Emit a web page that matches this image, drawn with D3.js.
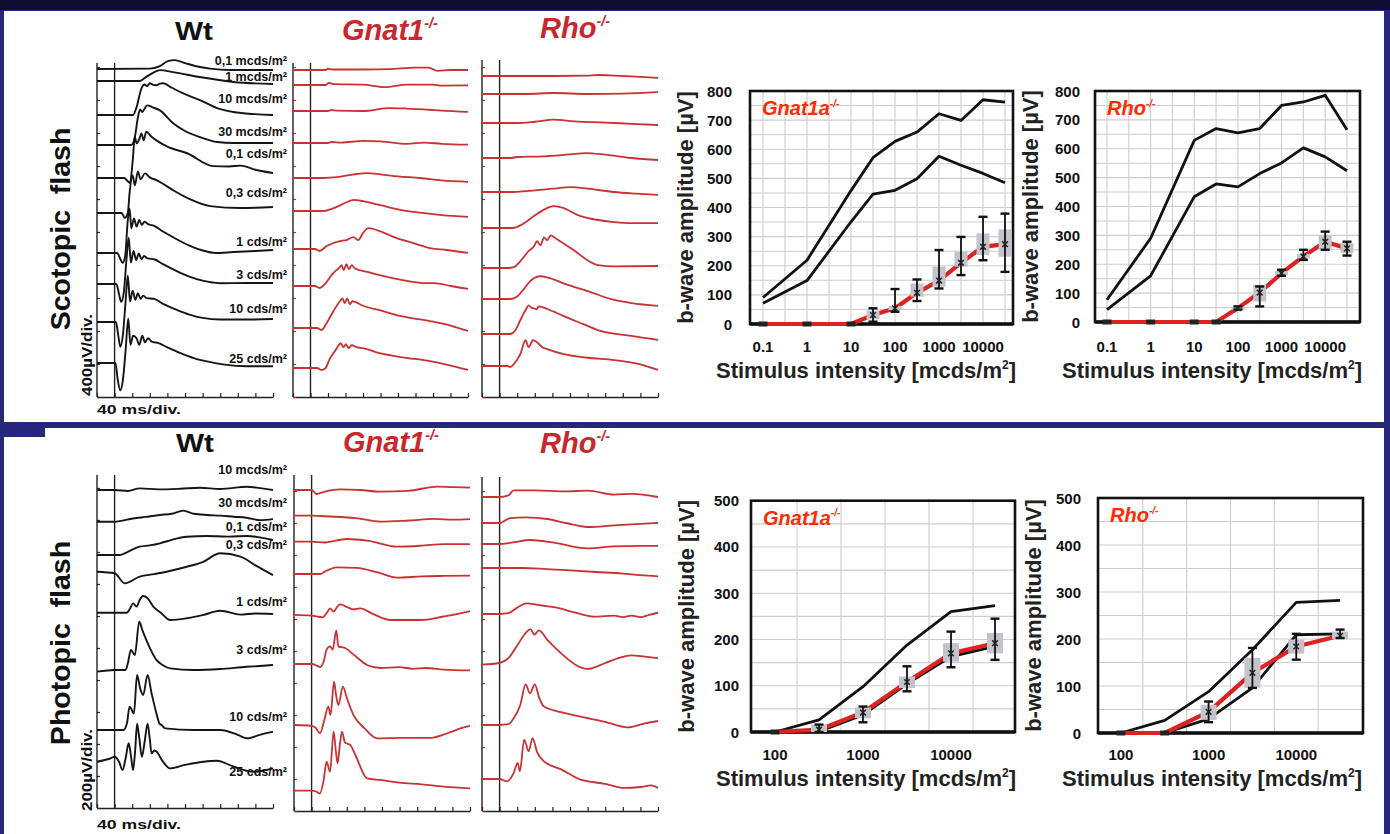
<!DOCTYPE html>
<html><head><meta charset="utf-8">
<script src="https://cdn.jsdelivr.net/npm/d3@7"></script>
<style>html,body{margin:0;padding:0;background:#25287a;overflow:hidden}svg{display:block;font-family:"Liberation Sans",Arial,sans-serif}</style>
</head><body><svg id="c" width="1390" height="834"></svg>
<script>
// ================= DATA =================
const scotLabels = ["0,1 mcds/m²","1 mcds/m²","10 mcds/m²","30 mcds/m²","0,1 cds/m²","0,3 cds/m²","1 cds/m²","3 cds/m²","10 cds/m²","25 cds/m²"];
const photLabels = ["10 mcds/m²","30 mcds/m²","0,1 cds/m²","0,3 cds/m²","1 cds/m²","3 cds/m²","10 cds/m²","25 cds/m²"];

// ERG traces: [time ms, amplitude µV]
const scotWt = [
 [[-40,0],[80,5],[103,35],[121,95],[137,108],[160,72],[194,24],[217,5],[263,-12],[360,-12]],
 [[-40,0],[57,0],[72,50],[95,120],[103,132],[133,108],[194,48],[270,-12],[360,-36]],
 [[-40,0],[42,0],[50,96],[61,324],[68,370],[74,350],[80,384],[88,365],[95,360],[103,380],[110,384],[130,330],[155,264],[194,180],[233,84],[270,36],[320,10],[360,0]],
 [[-40,0],[38,0],[46,96],[53,336],[58,430],[63,400],[68,440],[74,480],[87,456],[103,420],[133,264],[160,170],[194,96],[233,36],[270,24],[360,24]],
 [[-40,0],[22,0],[30,-40],[35,-60],[41,200],[46,500],[50,420],[56,470],[61,540],[66,456],[72,560],[84,500],[95,456],[120,380],[165,300],[224,144],[260,140],[286,150],[320,100],[360,60]],
 [[-40,0],[16,0],[23,-60],[30,0],[34,240],[41,456],[46,336],[53,504],[59,408],[69,480],[80,432],[96,396],[137,264],[171,168],[217,84],[286,60],[360,72]],
 [[-40,0],[6,0],[12,-60],[18,-120],[24,-40],[30,400],[34,540],[38,300],[44,420],[50,320],[56,400],[62,340],[68,380],[76,350],[90,330],[110,260],[140,170],[170,90],[200,30],[230,0],[270,12],[320,24],[360,36]],
 [[-40,0],[4,0],[10,-120],[15,-216],[21,-100],[27,300],[32,560],[37,260],[43,400],[49,290],[55,370],[61,300],[67,340],[75,310],[90,300],[110,240],[140,160],[170,90],[200,40],[240,10],[300,12],[360,12]],
 [[-40,0],[3,0],[8,-150],[13,-300],[19,-150],[25,250],[30,560],[35,250],[41,380],[47,270],[53,350],[59,280],[65,320],[73,290],[90,280],[110,220],[140,150],[170,90],[200,50],[240,30],[300,30],[360,36]],
 [[-40,0],[2,0],[7,-200],[13,-330],[19,-200],[25,150],[31,540],[36,220],[42,330],[50,300],[56,220],[63,330],[69,250],[76,300],[84,260],[100,240],[120,190],[150,120],[180,60],[210,20],[250,-20],[300,-40],[360,-40]]
];
const scotGnat = [
 [[-40,0],[35,0],[40,15],[50,6],[120,6],[180,10],[240,30],[270,30],[290,-10],[320,0],[360,0]],
 [[-40,0],[35,0],[42,25],[55,10],[120,5],[170,-25],[220,5],[280,5],[300,-8],[360,-5]],
 [[-40,0],[40,0],[48,12],[60,5],[120,0],[180,36],[220,30],[270,15],[300,5],[360,-10]],
 [[-40,0],[40,0],[48,12],[70,5],[120,25],[160,20],[220,-10],[260,5],[300,-10],[360,-20]],
 [[-40,0],[30,0],[60,10],[100,45],[130,60],[160,45],[200,20],[250,0],[300,-30],[360,-48]],
 [[-40,0],[30,0],[45,20],[60,50],[80,100],[99,135],[120,120],[160,70],[200,20],[250,-20],[300,-50],[360,-72]],
 [[-40,0],[10,0],[21,-24],[37,36],[67,96],[82,108],[98,144],[109,108],[120,192],[132,252],[158,216],[197,132],[235,72],[273,12],[311,-12],[360,-48]],
 [[-40,0],[10,0],[21,-24],[35,36],[50,144],[67,228],[71,252],[76,192],[82,264],[88,204],[94,252],[101,216],[130,170],[158,132],[210,72],[258,36],[284,36],[320,0],[360,-36]],
 [[-40,0],[15,0],[25,-24],[37,60],[52,200],[67,324],[73,360],[78,300],[84,360],[90,288],[96,324],[120,270],[158,216],[210,140],[273,84],[320,30],[360,-36]],
 [[-40,0],[15,0],[25,-24],[33,-10],[44,110],[59,230],[63,264],[69,300],[75,252],[81,288],[87,240],[94,276],[105,252],[120,240],[158,180],[210,130],[273,84],[320,30],[360,-24]]
];
const scotRho = [
 [[-40,0],[100,0],[200,5],[222,12],[260,5],[300,-5],[360,-24]],
 [[-40,0],[60,0],[123,12],[200,0],[280,5],[360,24]],
 [[-40,0],[40,0],[80,15],[123,40],[170,20],[240,5],[300,-10],[360,-24]],
 [[-40,0],[25,0],[40,12],[100,20],[160,45],[196,60],[240,40],[300,0],[360,-24]],
 [[-40,0],[30,0],[60,10],[120,40],[162,60],[200,40],[260,0],[310,-20],[360,-36]],
 [[-40,0],[30,0],[50,40],[78,144],[100,220],[123,264],[140,250],[184,144],[220,100],[261,72],[300,60],[360,60]],
 [[-40,0],[20,0],[32,10],[50,100],[65,200],[78,264],[85,324],[93,276],[101,372],[108,336],[116,396],[127,360],[162,240],[223,36],[261,20],[360,24]],
 [[-40,0],[25,0],[40,30],[55,120],[70,220],[93,276],[110,260],[150,180],[200,96],[261,-12],[300,-50],[360,-84]],
 [[-40,0],[25,0],[35,40],[50,200],[60,300],[66,348],[72,320],[78,312],[84,300],[89,336],[110,300],[146,216],[190,120],[223,48],[299,-24],[360,-72]],
 [[-40,0],[18,0],[24,-12],[32,20],[47,144],[59,312],[66,228],[76,312],[85,288],[97,228],[108,204],[146,144],[200,100],[261,72],[320,20],[360,-48]]
];
const photWt = [
 [[-40,0],[0,0],[30,-6],[57,10],[100,4],[150,8],[194,14],[240,6],[301,20],[330,12],[360,0]],
 [[-40,0],[0,0],[42,20],[70,30],[103,42],[130,50],[156,69],[180,50],[210,42],[240,38],[271,31],[300,25],[331,10],[360,16]],
 [[-40,0],[11,0],[30,20],[57,52],[80,60],[103,73],[130,95],[164,114],[210,119],[260,115],[301,119],[330,110],[360,94]],
 [[-40,0],[0,-10],[23,-73],[57,-31],[90,-15],[118,0],[164,31],[200,60],[240,115],[286,94],[320,40],[360,-21]],
 [[-40,0],[28,0],[35,25],[42,58],[50,38],[57,80],[65,104],[75,90],[88,38],[105,0],[126,-46],[164,-35],[200,-15],[240,12],[286,-12],[320,-5],[360,-8]],
 [[-40,-10],[0,0],[25,0],[30,40],[37,125],[46,94],[56,302],[63,250],[72,188],[85,110],[95,63],[110,30],[126,10],[180,0],[240,6],[300,20],[330,25],[360,31]],
 [[-40,0],[20,0],[28,40],[34,146],[44,104],[51,344],[58,260],[65,219],[75,344],[84,230],[95,104],[102,40],[107,31],[115,10],[180,0],[240,0],[280,-30],[301,-52],[330,-30],[360,-10]],
 [[-40,0],[-10,20],[0,31],[10,0],[18,-52],[25,20],[32,115],[37,40],[42,-52],[47,80],[51,237],[56,150],[62,31],[68,120],[75,237],[80,140],[84,52],[90,70],[95,63],[110,0],[126,-42],[160,-20],[202,0],[232,6],[270,-30],[316,-63],[340,-55],[360,-42]]
];
const photGnat = [
 [[-40,0],[0,0],[11,-25],[30,-10],[65,4],[110,0],[156,-10],[220,-5],[286,21],[320,18],[360,15]],
 [[-40,0],[0,0],[42,-5],[100,-15],[156,-37],[220,-30],[280,-20],[320,-25],[360,-21]],
 [[-40,0],[0,0],[30,-5],[80,17],[130,5],[194,-31],[250,-25],[300,-15],[360,-15]],
 [[-40,0],[20,0],[30,15],[57,42],[103,38],[150,10],[194,-23],[250,-15],[300,-12],[360,-10]],
 [[-40,5],[0,0],[25,-10],[35,20],[42,46],[50,25],[58,55],[65,71],[80,55],[95,40],[110,46],[140,10],[179,-27],[248,-27],[300,-5],[330,10],[360,29]],
 [[-40,0],[0,0],[12,-10],[19,-19],[28,20],[34,90],[42,110],[48,90],[56,210],[61,110],[68,105],[76,100],[95,60],[126,-6],[156,-25],[200,-20],[230,-30],[260,-25],[300,-35],[360,-40]],
 [[-40,0],[0,-5],[10,-20],[19,-52],[28,20],[38,115],[43,63],[51,271],[56,180],[61,125],[71,240],[80,170],[95,63],[120,-20],[149,-83],[200,-80],[271,-80],[310,-50],[340,-20],[360,-6]],
 [[-40,0],[0,0],[10,-5],[19,-17],[27,60],[34,181],[42,119],[50,369],[55,250],[59,171],[64,280],[69,369],[76,300],[88,285],[100,220],[126,77],[156,67],[200,50],[250,40],[300,25],[360,15]]
];
const photRho = [
 [[-40,0],[0,0],[20,10],[32,42],[80,42],[150,35],[200,40],[261,15],[300,20],[360,0]],
 [[-40,0],[0,0],[24,31],[60,35],[108,25],[150,0],[200,-25],[260,-15],[320,-5],[360,0]],
 [[-40,0],[0,0],[30,10],[70,25],[120,10],[200,-27],[260,-15],[320,-12],[360,-12]],
 [[-40,0],[0,0],[50,0],[100,-5],[160,-15],[220,-25],[280,-35],[320,-45],[360,-52]],
 [[-40,0],[0,0],[20,5],[40,40],[62,67],[90,55],[130,40],[170,10],[215,-17],[260,-10],[280,-20],[300,-10],[320,-20],[340,-5],[360,8]],
 [[-40,-10],[0,0],[20,30],[40,110],[60,190],[70,212],[79,177],[89,204],[110,140],[140,60],[184,-27],[200,-37],[240,0],[270,30],[299,48],[330,40],[360,31]],
 [[-40,0],[0,0],[20,5],[32,42],[47,125],[59,254],[69,198],[80,254],[90,170],[101,115],[140,80],[184,52],[240,20],[291,-15],[330,10],[360,25]],
 [[-40,0],[0,0],[17,-15],[32,38],[41,100],[46,48],[56,246],[66,173],[75,256],[85,170],[101,110],[140,60],[184,-4],[240,-30],[283,-56],[320,-50],[345,-40],[360,-56]]
];

// Intensity-response plots
const scotCats = ["0.1","0.3","1","3","10","30","100","300","1000","3000","10000","25000"];
const scotTickLabels = ["0.1","1","10","100","1000","10000"];
const scotYTicks = [0,100,200,300,400,500,600,700,800];
const scotX = ["0.1","1","10","30","100","300","1000","3000","10000","25000"];

const gnatScotWtHigh = [91,219,458,571,627,659,722,699,770,762];
const gnatScotWtLow  = [71,149,351,446,459,499,576,545,517,485];
const gnatScotMean   = [0,0,0,31,54,107,149,210,265,274];
const gnatScotErrLo  = [0,0,0,8,42,79,122,168,219,179];
const gnatScotErrHi  = [0,0,0,54,120,153,254,299,368,379];
const gnatScotBoxLo  = [0,0,0,16,48,94,128,197,237,231];
const gnatScotBoxHi  = [0,0,0,46,62,139,197,248,311,325];

const rhoScotWtHigh = [77,290,629,670,655,670,750,762,785,666];
const rhoScotWtLow  = [43,160,434,478,468,514,551,603,572,524];
const rhoScotMean   = [0,0,0,0,48,102,169,227,278,255];
const rhoScotErrLo  = [0,0,0,0,43,54,160,215,250,230];
const rhoScotErrHi  = [0,0,0,0,54,123,181,250,313,278];
const rhoScotBoxLo  = [0,0,0,0,44,71,163,220,250,238];
const rhoScotBoxHi  = [0,0,0,0,52,129,177,236,301,273];

const photCats = ["100","300","1000","3000","10000","25000"];
const photTickLabels = ["100","1000","10000"];
const photYTicks = [0,100,200,300,400,500];

const gnatPhotWtHigh = [0,26,98,188,260,273];
const gnatPhotWtLow  = [0,1,37,104,163,185];
const gnatPhotMean   = [0,5,42,108,170,192];
const gnatPhotErrLo  = [0,0,21,88,140,156];
const gnatPhotErrHi  = [0,16,55,142,217,245];
const gnatPhotBoxLo  = [0,0,30,95,152,170];
const gnatPhotBoxHi  = [0,16,53,120,192,214];

const rhoPhotWtHigh = [0,27,88,177,278,282];
const rhoPhotWtLow  = [0,0,30,96,209,211];
const rhoPhotMean   = [0,0,45,128,184,207];
const rhoPhotErrLo  = [0,0,23,96,156,202];
const rhoPhotErrHi  = [0,0,67,181,211,220];
const rhoPhotBoxLo  = [0,0,28,96,169,200];
const rhoPhotBoxHi  = [0,0,60,160,199,216];

// ================= DRAW =================
const svg = d3.select("#c");
const FONT = '"Liberation Sans", Arial, sans-serif';

svg.append("rect").attr("width",1390).attr("height",834).attr("fill","#25287a");
svg.append("rect").attr("width",1390).attr("height",10).attr("fill","#0e0e30");
svg.append("rect").attr("x",4).attr("y",11).attr("width",1380).attr("height",411).attr("fill","#fff");
svg.append("rect").attr("x",4).attr("y",437).attr("width",1380).attr("height",397).attr("fill","#fff");
svg.append("rect").attr("x",45).attr("y",428).attr("width",1339).attr("height",10).attr("fill","#fff");

function txt(x, y, s, opt) {
  opt = opt || {};
  const t = svg.append("text").attr("x", x).attr("y", y).text(s)
    .attr("font-family", FONT).attr("font-weight", opt.weight || "bold")
    .attr("font-size", opt.size || 14).attr("fill", opt.fill || "#111")
    .attr("text-anchor", opt.anchor || "start");
  if (opt.italic) t.attr("font-style", "italic");
  if (opt.rotate) t.attr("transform", `rotate(${opt.rotate},${x},${y})`);
  if (opt.len) t.attr("textLength", opt.len).attr("lengthAdjust", "spacingAndGlyphs");
  return t;
}
function supTitle(x, y, main, sup, size, fill, anchor) {
  const t = svg.append("text").attr("x", x).attr("y", y)
    .attr("font-family", FONT).attr("font-weight", "bold").attr("font-style", "italic")
    .attr("font-size", size).attr("fill", fill).attr("text-anchor", anchor || "start");
  t.append("tspan").text(main);
  t.append("tspan").text(sup).attr("font-size", size * 0.5).attr("dy", -size * 0.42);
  return t;
}

function tracePanel(p, traces, color, uvPerDiv, tickColor, sw) {
  const g = svg.append("g");
  const x = d3.scaleLinear().domain([-40, 360]).range([p.left, p.right]);
  const nDiv = Math.floor((p.bottom - p.top) / p.pxDiv);
  const yAx = d3.scaleLinear().domain([0, nDiv * uvPerDiv]).range([p.bottom, p.bottom - nDiv * p.pxDiv]);
  const bx = g.append("g").attr("transform", `translate(0,${p.bottom})`)
    .call(d3.axisBottom(x).tickValues(d3.range(-40, 361, 40)).tickSize(-4).tickSizeOuter(0).tickFormat(""));
  bx.select(".domain").attr("stroke", "#222").attr("stroke-width", 1.4);
  bx.selectAll(".tick line").attr("stroke", "#222").attr("stroke-width", 1.2);
  const ly = g.append("g").attr("transform", `translate(${p.left},0)`)
    .call(d3.axisRight(yAx).tickValues(d3.range(0, nDiv * uvPerDiv + 1, uvPerDiv)).tickSize(3).tickFormat(""));
  ly.select(".domain").remove();
  ly.selectAll(".tick line").attr("stroke", tickColor).attr("stroke-width", 1.2);
  g.append("line").attr("x1", p.left).attr("x2", p.left).attr("y1", p.top).attr("y2", p.bottom)
    .attr("stroke", "#222").attr("stroke-width", 1.4);
  g.append("line").attr("x1", x(0)).attr("x2", x(0)).attr("y1", p.top).attr("y2", p.bottom)
    .attr("stroke", "#222").attr("stroke-width", 1.4);
  traces.forEach((tr, i) => {
    const y = d3.scaleLinear().domain([0, uvPerDiv]).range([p.base[i], p.base[i] - p.pxDiv]);
    const line = d3.line().x(d => x(d[0])).y(d => y(d[1])).curve(d3.curveMonotoneX);
    g.append("path").attr("d", line(tr)).attr("fill", "none").attr("stroke", color)
      .attr("stroke-width", sw).attr("stroke-linejoin", "round");
  });
}

tracePanel({left:97, right:273, top:63, bottom:397, pxDiv:33, base:[69,81,115,145,178,213,253,284,322,363]}, scotWt, "#151515", 400, "#333", 1.9);
tracePanel({left:293, right:468, top:63, bottom:397, pxDiv:33, base:[70,85,111,143,178,211,249,286,328,368]}, scotGnat, "#c83232", 400, "#d22", 1.8);
tracePanel({left:482, right:658, top:60, bottom:397, pxDiv:33, base:[76,94,123,158,192,228,268,299,334,366]}, scotRho, "#c83232", 400, "#d22", 1.8);
tracePanel({left:97, right:273, top:475, bottom:808, pxDiv:32, base:[490,521.7,555,571.7,612.7,670,730,761.7]}, photWt, "#151515", 200, "#333", 1.9);
tracePanel({left:294, right:470, top:475, bottom:811, pxDiv:32, base:[490,515.7,541.7,574,615.7,664,725,790.7]}, photGnat, "#c83232", 200, "#d22", 1.8);
tracePanel({left:482, right:658, top:477, bottom:811, pxDiv:32, base:[497,523,544,568,614,663,725,779]}, photRho, "#c83232", 200, "#d22", 1.8);

const scotLabY = [65,81,103,136,158,197,246,279,313,363];
scotLabels.forEach((s, i) => txt(287, scotLabY[i], s, {size:12.5, anchor:"end"}));
const photLabY = [474,507,531,549,606,654,721,776];
photLabels.forEach((s, i) => txt(287, photLabY[i], s, {size:12.5, anchor:"end"}));

txt(194, 40, "Wt", {size:25, anchor:"middle", len:38});
txt(195, 452, "Wt", {size:25, anchor:"middle", len:38});
supTitle(342, 40, "Gnat1", "-/-", 29, "#c8282d");
supTitle(540, 38, "Rho", "-/-", 29, "#c8282d");
supTitle(343, 452, "Gnat1", "-/-", 29, "#c8282d");
supTitle(540, 453, "Rho", "-/-", 29, "#c8282d");

txt(70, 229, "Scotopic\u00a0\u00a0flash", {size:28.5, anchor:"middle", rotate:-90});
txt(70, 643, "Photopic\u00a0\u00a0flash", {size:28.5, anchor:"middle", rotate:-90});
txt(92, 355, "400µV/div.", {size:14, anchor:"middle", rotate:-90, len:82});
txt(92, 770, "200µV/div.", {size:14, anchor:"middle", rotate:-90, len:82});
txt(97, 414, "40 ms/div.", {size:13, len:84});
txt(97, 829, "40 ms/div.", {size:13, len:84});

function chart(c, d) {
  const g = svg.append("g");
  let xPos, gridX;
  if (c.kind === "point") {
    const xs = d3.scalePoint().domain(c.cats).range(c.range);
    xPos = k => xs(k);
    gridX = c.cats.map(k => xs(k));
  } else {
    const xs = d3.scaleBand().domain(c.cats).range(c.range);
    xPos = k => xs(k) + xs.bandwidth() / 2;
    gridX = c.cats.slice(1).map(k => xs(k));
  }
  const y = d3.scaleLinear().domain([0, c.yMax]).range([c.bottom, c.top]);
  g.selectAll(null).data(d3.range(50, c.yMax, 50)).join("line")
    .attr("x1", c.left).attr("x2", c.right).attr("y1", v => y(v)).attr("y2", v => y(v))
    .attr("stroke", "#cdcdcd").attr("stroke-width", 1.1);
  g.selectAll(null).data(gridX).join("line")
    .attr("x1", v => v).attr("x2", v => v).attr("y1", c.top).attr("y2", c.bottom)
    .attr("stroke", "#cdcdcd").attr("stroke-width", 1.1);
  g.append("rect").attr("x", c.left).attr("y", c.top).attr("width", c.right - c.left).attr("height", c.bottom - c.top)
    .attr("fill", "none").attr("stroke", "#111").attr("stroke-width", 2.6);
  g.append("line").attr("x1", c.left).attr("x2", c.right).attr("y1", y(0)).attr("y2", y(0))
    .attr("stroke", "#111").attr("stroke-width", 3.4);

  const pts = arr => d.xs.map((k, i) => [k, arr[i]]);
  const line = d3.line().x(p => xPos(p[0])).y(p => y(p[1]));
  [d.hi, d.lo].forEach(arr => g.append("path").attr("d", line(pts(arr))).attr("fill", "none")
    .attr("stroke", "#111").attr("stroke-width", 2.8).attr("stroke-linejoin", "round"));
  g.append("path").attr("d", line(pts(d.mean))).attr("fill", "none")
    .attr("stroke", "#dd2222").attr("stroke-width", 4.2).attr("stroke-linejoin", "round");

  d.xs.forEach((k, i) => {
    const cx = xPos(k);
    if (d.bHi[i] > d.bLo[i]) {
      g.append("rect").attr("x", cx - c.boxW / 2).attr("y", y(d.bHi[i])).attr("width", c.boxW)
        .attr("height", Math.max(3, y(d.bLo[i]) - y(d.bHi[i]))).attr("fill", "#c2c3cb");
    }
    if (d.eHi[i] > d.eLo[i]) {
      g.append("line").attr("x1", cx).attr("x2", cx).attr("y1", y(d.eHi[i])).attr("y2", y(d.eLo[i]))
        .attr("stroke", "#111").attr("stroke-width", 1.8);
      [d.eHi[i], d.eLo[i]].forEach(v => g.append("line").attr("x1", cx - 4.5).attr("x2", cx + 4.5)
        .attr("y1", y(v)).attr("y2", y(v)).attr("stroke", "#111").attr("stroke-width", 2.4));
      const my = y(d.mean[i]);
      g.append("path").attr("d", `M${cx-2.8},${my-2.8}L${cx+2.8},${my+2.8}M${cx-2.8},${my+2.8}L${cx+2.8},${my-2.8}`)
        .attr("stroke", "#222").attr("stroke-width", 1.5);
    } else {
      g.append("rect").attr("x", cx - 4.5).attr("y", y(d.mean[i]) - 2.5).attr("width", 9).attr("height", 5).attr("fill", "#222");
    }
  });

  c.yTicks.forEach(v => txt(c.left - c.yGap, y(v) + 5.5, String(v), {size:15, anchor:"end"}));
  c.tickLabels.forEach(k => txt(xPos(k), c.xLabY, k, {size:15, anchor:"middle"}));
  const xt = svg.append("text").attr("x", c.titleX).attr("y", c.xTitleY).attr("text-anchor", "middle")
    .attr("font-family", FONT).attr("font-weight", "bold").attr("font-size", 22).attr("fill", "#222");
  xt.append("tspan").text("Stimulus intensity [mcds/m");
  xt.append("tspan").text("2").attr("font-size", 12).attr("dy", -9);
  xt.append("tspan").text("]").attr("dy", 9);
  txt(c.left - 57, (c.top + c.bottom) / 2, "b-wave amplitude [µV]", {size:22, anchor:"middle", rotate:-90, fill:"#222"});
  supTitle(c.left + 12, c.top + 24, c.label, "-/-", 20, "#ff2a00");
}

chart({kind:"point", cats:scotCats, range:[763,1005], left:750, right:1013, top:91, bottom:324, yMax:800,
       yTicks:scotYTicks, tickLabels:scotTickLabels, yGap:18, xLabY:352, xTitleY:378, titleX:866, boxW:13, label:"Gnat1a"},
      {xs:scotX, hi:gnatScotWtHigh, lo:gnatScotWtLow, mean:gnatScotMean, eLo:gnatScotErrLo, eHi:gnatScotErrHi, bLo:gnatScotBoxLo, bHi:gnatScotBoxHi});
chart({kind:"point", cats:scotCats, range:[1107,1347], left:1095, right:1360, top:91, bottom:322, yMax:800,
       yTicks:scotYTicks, tickLabels:scotTickLabels, yGap:15, xLabY:352, xTitleY:378, titleX:1212, boxW:13, label:"Rho"},
      {xs:scotX, hi:rhoScotWtHigh, lo:rhoScotWtLow, mean:rhoScotMean, eLo:rhoScotErrLo, eHi:rhoScotErrHi, bLo:rhoScotBoxLo, bHi:rhoScotBoxHi});
chart({kind:"band", cats:photCats, range:[753,1017], left:751, right:1015, top:500.7, bottom:732, yMax:500,
       yTicks:photYTicks, tickLabels:photTickLabels, yGap:12, xLabY:760, xTitleY:786, titleX:866, boxW:16, label:"Gnat1a"},
      {xs:photCats, hi:gnatPhotWtHigh, lo:gnatPhotWtLow, mean:gnatPhotMean, eLo:gnatPhotErrLo, eHi:gnatPhotErrHi, bLo:gnatPhotBoxLo, bHi:gnatPhotBoxHi});
chart({kind:"band", cats:photCats, range:[1099,1362], left:1098, right:1363, top:498, bottom:733, yMax:500,
       yTicks:photYTicks, tickLabels:photTickLabels, yGap:17, xLabY:760, xTitleY:786, titleX:1212, boxW:16, label:"Rho"},
      {xs:photCats, hi:rhoPhotWtHigh, lo:rhoPhotWtLow, mean:rhoPhotMean, eLo:rhoPhotErrLo, eHi:rhoPhotErrHi, bLo:rhoPhotBoxLo, bHi:rhoPhotBoxHi});
</script></body></html>
